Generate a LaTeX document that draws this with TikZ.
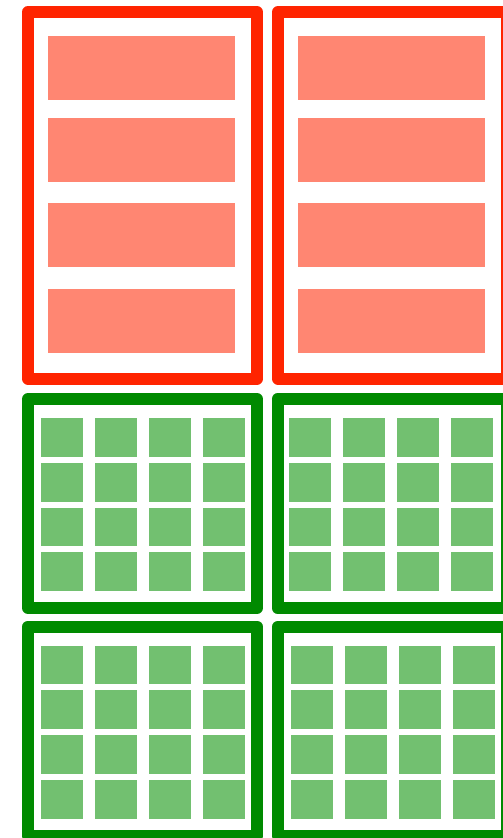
\documentclass[tikz,border=0pt]{standalone}
\usepackage{xcolor}
\definecolor{framered}{RGB}{255,36,0}
\definecolor{cellred}{RGB}{255,134,114}
\definecolor{framegreen}{RGB}{0,138,0}
\definecolor{cellgreen}{RGB}{114,192,112}

\begin{document}
\begin{tikzpicture}[x=1pt, y=-1pt,
  frame/.style={rectangle, draw=#1, line width=12pt, line join=round, inner sep=0pt, outer sep=0pt, minimum width=229pt, anchor=north west},
  redcell/.style={rectangle, fill=cellred, inner sep=0pt, minimum width=187pt, minimum height=64pt, anchor=north west},
  greencell/.style={rectangle, fill=cellgreen, inner sep=0pt, minimum width=42pt, minimum height=38.7pt, anchor=north west}]
\useasboundingbox (0,0) rectangle (503,838);
\clip (0,0) rectangle (503,838);

% red frames with four bars each
\foreach \name/\x in {redL/28, redR/278}
  \node[frame=framered, minimum height=366.5pt] (\name) at (\x,12) {};
\foreach \name in {redL, redR}
  \foreach \i/\dy in {0/24, 1/106, 2/191, 3/277}
    \node[redcell] (\name-\i) at ([shift={(20,\dy)}]\name.north west) {};

% green frames with a 4x4 grid each
\foreach \name/\x/\y/\dx in {greenTL/28/399/13, greenTR/277.5/399/11.5, greenBL/28/626.5/12.5, greenBR/278/626.5/13}
  \node[frame=framegreen, minimum height=209pt] (\name) at (\x,\y) {};
\foreach \name/\dx in {greenTL/13, greenTR/11.5, greenBL/12.5, greenBR/13}
  \foreach \i in {0,...,3}
    \foreach \j in {0,...,3}
      \node[greencell] (\name-\i-\j) at ([shift={(\dx+54*\j,19+44.7*\i)}]\name.north west) {};
\end{tikzpicture}
\end{document}
